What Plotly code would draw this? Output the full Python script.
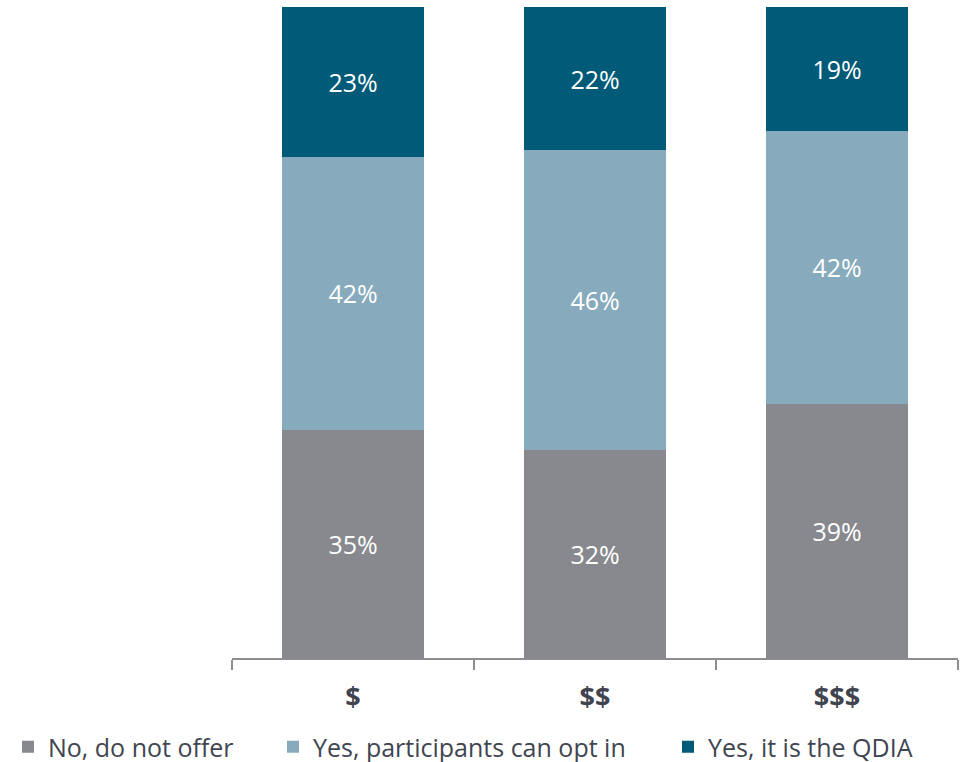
import plotly.graph_objects as go

# Spending tiers and share of plans by offering status (percent)
tiers = ["$", "$$", "$$$"]
no_offer = [35, 32, 39]
opt_in = [42, 46, 42]
qdia = [23, 22, 19]

series_names = ["No, do not offer", "Yes, participants can opt in", "Yes, it is the QDIA"]
series_colors = ["#87898e", "#87abbd", "#005a78"]
series_values = [no_offer, opt_in, qdia]
legend_ids = ["legend", "legend2", "legend3"]
legend_left_px = [8, 273, 668]

W, H = 969, 762
FONT = "Open Sans"

fig = go.Figure()
for name, color, vals, lg in zip(series_names, series_colors, series_values, legend_ids):
    fig.add_trace(go.Bar(
        x=tiers,
        y=vals,
        name=name,
        marker=dict(color=color, line=dict(width=0)),
        text=[f"{v}%" for v in vals],
        textposition="inside",
        insidetextanchor="middle",
        textangle=0,
        textfont=dict(family=FONT, size=25, color="white"),
        legend=lg,
        hoverinfo="skip",
    ))

legend_style = dict(
    orientation="h",
    yanchor="middle",
    xanchor="left",
    xref="container",
    yref="container",
    y=15 / H,
    font=dict(family=FONT, size=25, color="#404550"),
    bgcolor="rgba(0,0,0,0)",
    itemclick=False,
)

layout_legends = {}
for lg, lx in zip(legend_ids, legend_left_px):
    layout_legends[lg] = dict(legend_style, x=lx / W)

fig.update_layout(
    barmode="stack",
    bargap=0.417,
    width=W,
    height=H,
    margin=dict(l=232, r=11, t=7, b=104),
    paper_bgcolor="white",
    plot_bgcolor="white",
    showlegend=True,
    xaxis=dict(
        type="category",
        showline=True,
        linecolor="#8c8d91",
        linewidth=2,
        ticks="outside",
        tickson="boundaries",
        ticklen=10,
        tickwidth=2,
        tickcolor="#8c8d91",
        ticklabelstandoff=14,
        tickfont=dict(family=FONT, size=27, color="#3f4450", weight="bold"),
        showgrid=False,
    ),
    yaxis=dict(
        range=[0, 100],
        visible=False,
        showgrid=False,
        zeroline=False,
    ),
    **layout_legends,
)

fig.write_html("out.html")
